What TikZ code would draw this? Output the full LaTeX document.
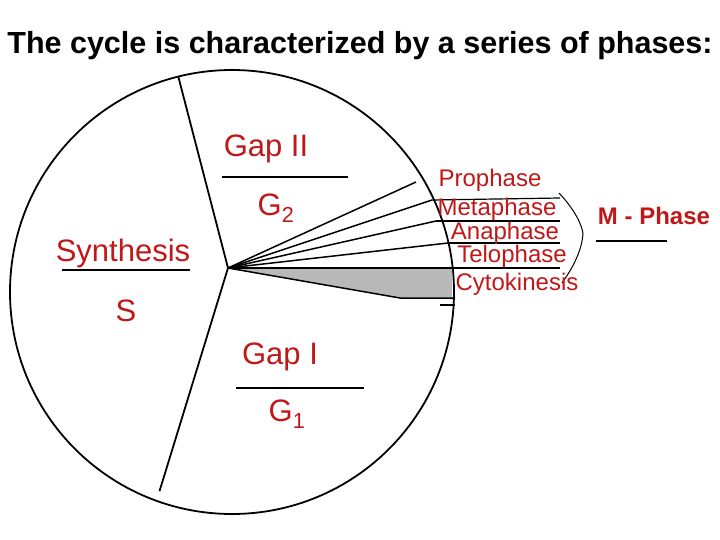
\documentclass[tikz,border=0pt]{standalone}
\usepackage{fontspec}
\setmainfont{Liberation Sans}
\usetikzlibrary{calc}
\definecolor{txtred}{HTML}{C01818}
\begin{document}
\begin{tikzpicture}[x=1pt,y=-1pt,
  spoke/.style={draw=black,line width=1.8pt},
  rl/.style={text=txtred,font=\fontsize{24}{26}\selectfont,inner sep=0pt},
  bl/.style={text=txtred,font=\fontsize{31}{34}\selectfont,inner sep=0pt},
  ul/.style={draw=black,line width=1.2pt}]
\useasboundingbox (0,0) rectangle (720,540);
\coordinate (c) at (232,292);
\coordinate (h) at (228,268);
\draw[line width=1.8pt] (c) circle[radius=222];
\coordinate (t) at ($(c)+(-104:222)$);
\coordinate (b) at ($(c)+(110:212)$);
\draw[spoke] (h) -- (t);
\draw[spoke] (h) -- (b);
\coordinate (p1) at (416,182);
\coordinate (p2) at (432,200);
\coordinate (p3) at (436,221);
\coordinate (p4) at (448,243);
\coordinate (p5) at (452,268);
\coordinate (g1) at (400,298);
\coordinate (g2) at (455,298);
\fill[gray!55] (h) -- (p5) -- (452,298) -- (g1) -- cycle;
\foreach \p in {p1,p2,p3,p4,p5} \draw[line width=1.5pt] (h) -- (\p);
\draw[line width=1.5pt] (h) -- (g1) -- (g2);
\draw[ul] (440,305) -- (455,305);
\coordinate (e1) at (560,198);\coordinate (e2) at (560,221);
\coordinate (e3) at (560,243);\coordinate (e4) at (560,268);
\draw[ul] (p2) -- (e1); \draw[ul] (p3) -- (e2);
\draw[ul] (p4) -- (e3); \draw[ul] (p5) -- (e4);
\draw[line width=1pt] (559,193) .. controls (575,210) and (582,225) .. (583,234) .. controls (582,248) and (575,265) .. (562,283);
\node[rl] (pro) at (490,180) {Prophase};
\node[rl] (met) at (497,209) {Metaphase};
\node[rl] (ana) at (505,233) {Anaphase};
\node[rl] (tel) at (512,256) {Telophase};
\node[rl] (cyt) at (517,284) {Cytokinesis};
\node[text=txtred,font=\fontsize{24}{26}\selectfont\bfseries,inner sep=0pt] (mp) at (654,216) {M - Phase};
\draw[ul] (596,241) -- (667,241);
\node[bl] (g2l) at (266,149) {Gap II};
\draw[ul] (222,177) -- (348,177);
\node[bl] (g2s) at (276,208) {G\textsubscript{2}};
\node[bl] (syn) at (123,253) {Synthesis};
\draw[ul] (62,270) -- (190,270);
\node[bl] (s) at (126,311) {S};
\node[bl] (g1l) at (280,357) {Gap I};
\draw[ul] (236,388) -- (364,388);
\node[bl] (g1s) at (287,414) {G\textsubscript{1}};
\node[font=\fontsize{30.5}{33}\selectfont\bfseries,inner sep=0pt] (title) at (360,46) {The cycle is characterized by a series of phases:};
\end{tikzpicture}
\end{document}
